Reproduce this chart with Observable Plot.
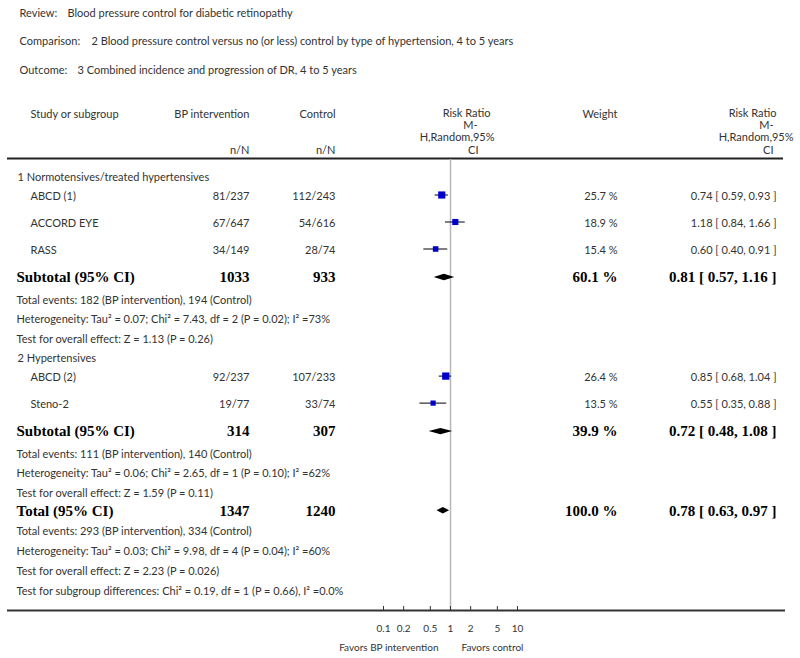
<!DOCTYPE html>
<html>
<head>
<meta charset="utf-8">
<script src="https://cdn.jsdelivr.net/npm/d3@7"></script>
<script src="https://cdn.jsdelivr.net/npm/@observablehq/plot@0.6"></script>
<style>
  html, body { margin: 0; padding: 0; background: #fff; }
</style>
</head>
<body>
<div id="chart"></div>
<script>
// ---------------- DATA ----------------
const titleLabels = ["Review:", "Comparison:", "Outcome:"];
const titleValues = [
  "Blood pressure control for diabetic retinopathy",
  "2 Blood pressure control versus no (or less) control by type of hypertension, 4 to 5 years",
  "3 Combined incidence and progression of DR, 4 to 5 years"
];

const studies    = ["ABCD (1)", "ACCORD EYE", "RASS", "ABCD (2)", "Steno-2"];
const studyGroup = [0, 0, 0, 1, 1];
const bpEvents   = [81, 67, 34, 92, 19];
const bpTotal    = [237, 647, 149, 237, 77];
const ctlEvents  = [112, 54, 28, 107, 33];
const ctlTotal   = [243, 616, 74, 233, 74];
const weights    = [25.7, 18.9, 15.4, 26.4, 13.5];
const rr         = [0.74, 1.18, 0.60, 0.85, 0.55];
const rrLo       = [0.59, 0.84, 0.40, 0.68, 0.35];
const rrHi       = [0.93, 1.66, 0.91, 1.04, 0.88];

const subgroups  = ["1 Normotensives/treated hypertensives", "2 Hypertensives"];
const subBp      = [1033, 314];
const subCtl     = [933, 307];
const subWeight  = [60.1, 39.9];
const subRR      = [0.81, 0.72];
const subLo      = [0.57, 0.48];
const subHi      = [1.16, 1.08];
const subStats = [
  ["Total events: 182 (BP intervention), 194 (Control)",
   "Heterogeneity: Tau² = 0.07; Chi² = 7.43, df = 2 (P = 0.02); I² =73%",
   "Test for overall effect: Z = 1.13 (P = 0.26)"],
  ["Total events: 111 (BP intervention), 140 (Control)",
   "Heterogeneity: Tau² = 0.06; Chi² = 2.65, df = 1 (P = 0.10); I² =62%",
   "Test for overall effect: Z = 1.59 (P = 0.11)"]
];

const totalLabel  = "Total (95% CI)";
const totalBp     = 1347;
const totalCtl    = 1240;
const totalWeight = 100.0;
const totalRR     = 0.78;
const totalLo     = 0.63;
const totalHi     = 0.97;
const totalStats = [
  "Total events: 293 (BP intervention), 334 (Control)",
  "Heterogeneity: Tau² = 0.03; Chi² = 9.98, df = 4 (P = 0.04); I² =60%",
  "Test for overall effect: Z = 2.23 (P = 0.026)",
  "Test for subgroup differences: Chi² = 0.19, df = 1 (P = 0.66), I² =0.0%"
];

const tickValues = [0.1, 0.2, 0.5, 1, 2, 5, 10];
const tickLabels = ["0.1", "0.2", "0.5", "1", "2", "5", "10"];
const favorsLeft  = "Favors BP intervention";
const favorsRight = "Favors control";

// ---------------- LAYOUT (positions / styles) ----------------
const W = 800, H = 658;
const COL = {title: 19, group: 17, bold: 16, study: 30, bp: 249, ctl: 335, weight: 617, rr: 776};
const TITLE_Y = [13, 41, 70];
const TITLE_VALUE_X = [67, 91, 77];
const HEAD_Y = 114, NN_Y = 150;
const HEAD_RR_Y = [113, 125, 137, 149.5];
const HEAD_RR_LEFT_END = [490, 477, 494, 478];
const HEAD_RR_RIGHT_END = [776, 773, 793, 773];
const HEAD_RR_LINES = ["Risk Ratio", "M-", "H,Random,95%", "CI"];
const RULE_TOP = 158, AXIS_Y = 610, TICK_LABEL_Y = 628, FAVORS_Y = 647;
const GAP = {
  "group>study": 19, "study>study": 27, "study>sub": 27, "sub>stat": 22.5,
  "stat>stat": 19.8, "stat>group": 19, "stat>total": 17, "total>stat": 21
};
const FIRST_ROW_Y = 177;
const NORMAL = "#333";

// ---------------- BUILD ROWS ----------------
const rows = [];
subgroups.forEach((g, gi) => {
  rows.push({type: "group", label: g});
  studies.forEach((s, i) => {
    if (studyGroup[i] !== gi) return;
    rows.push({type: "study", label: s,
      bp: `${bpEvents[i]}/${bpTotal[i]}`, ctl: `${ctlEvents[i]}/${ctlTotal[i]}`,
      w: weights[i], rr: rr[i], lo: rrLo[i], hi: rrHi[i]});
  });
  rows.push({type: "sub", label: "Subtotal (95% CI)", bp: String(subBp[gi]), ctl: String(subCtl[gi]),
    w: subWeight[gi], rr: subRR[gi], lo: subLo[gi], hi: subHi[gi]});
  subStats[gi].forEach(t => rows.push({type: "stat", label: t}));
});
rows.push({type: "total", label: totalLabel, bp: String(totalBp), ctl: String(totalCtl),
  w: totalWeight, rr: totalRR, lo: totalLo, hi: totalHi});
totalStats.forEach(t => rows.push({type: "stat", label: t}));

let yy = FIRST_ROW_Y;
rows.forEach((r, i) => {
  if (i > 0) yy += GAP[rows[i - 1].type + ">" + r.type] ?? 20;
  r.y = yy;
});

const studyRows = rows.filter(r => r.type === "study");
const boldRows = rows.filter(r => r.type === "sub" || r.type === "total");
const groupRows = rows.filter(r => r.type === "group");
const statRows = rows.filter(r => r.type === "stat");

const fmt2 = v => v.toFixed(2);
const rrText = r => `${fmt2(r.rr)} [ ${fmt2(r.lo)}, ${fmt2(r.hi)} ]`;
const wText = r => `${r.w.toFixed(1)} %`;

// diamond polygons
const DIAMOND_H = 3.2;
const diamonds = [];
boldRows.forEach((r, k) => {
  diamonds.push({k, x: r.lo, y1: r.y, y2: r.y});
  diamonds.push({k, x: r.rr, y1: r.y - DIAMOND_H, y2: r.y + DIAMOND_H});
  diamonds.push({k, x: r.hi, y1: r.y, y2: r.y});
});

const boldFont = {fontFamily: "Liberation Serif", fontWeight: "bold", fontSize: 15, fill: "#000"};

const col = (data, text, dx, anchor, extra = {}) =>
  Plot.text(data, {y: "y", text, frameAnchor: "left", dx, textAnchor: anchor, fill: NORMAL, ...extra});

const single = (t, y, dx, anchor, extra = {}) =>
  Plot.text([t], {y: () => y, text: d => d, frameAnchor: "left", dx, textAnchor: anchor, fill: NORMAL, ...extra});

const chart = Plot.plot({
  width: W, height: H,
  marginLeft: 0, marginRight: 0, marginTop: 0, marginBottom: 0,
  style: {fontFamily: "Lato, 'Open Sans', sans-serif", fontSize: "11px", background: "#fff", color: NORMAL},
  x: {type: "log", domain: [0.1, 10], range: [383, 517], axis: null},
  y: {type: "linear", domain: [0, H], range: [0, H], axis: null},
  r: {type: "sqrt", domain: [0, 26.4], range: [0, 4.1]},
  marks: [
    // titles
    ...titleLabels.map((t, i) => single(t, TITLE_Y[i], COL.title, "start")),
    ...titleValues.map((t, i) => single(t, TITLE_Y[i], TITLE_VALUE_X[i], "start")),
    // header
    single("Study or subgroup", HEAD_Y, COL.study, "start"),
    single("BP intervention", HEAD_Y, COL.bp, "end"),
    single("Control", HEAD_Y, COL.ctl, "end"),
    single("n/N", NN_Y, COL.bp, "end"),
    single("n/N", NN_Y, COL.ctl, "end"),
    single("Weight", HEAD_Y, COL.weight, "end"),
    ...HEAD_RR_LINES.map((t, i) => single(t, HEAD_RR_Y[i], HEAD_RR_LEFT_END[i], "end")),
    ...HEAD_RR_LINES.map((t, i) => single(t, HEAD_RR_Y[i], HEAD_RR_RIGHT_END[i], "end")),
    // rules
    Plot.ruleY([RULE_TOP], {stroke: "#222", strokeWidth: 2, insetLeft: 7, insetRight: 17}),
    Plot.ruleX([1], {y1: RULE_TOP + 1, y2: AXIS_Y, stroke: "#b8b8b8", strokeWidth: 1.5}),
    Plot.ruleY([AXIS_Y], {stroke: "#333", strokeWidth: 2, insetLeft: 7, insetRight: 15}),
    Plot.ruleX(tickValues, {y1: AXIS_Y - 4, y2: AXIS_Y, stroke: "#333", strokeWidth: 1}),
    Plot.text(tickValues, {x: d => d, y: () => TICK_LABEL_Y, text: (d, i) => tickLabels[i], fill: NORMAL, fontSize: 10}),
    Plot.text([favorsLeft], {x: () => 1, y: () => FAVORS_Y, text: d => d, dx: -12, textAnchor: "end", fill: NORMAL, fontSize: 10}),
    Plot.text([favorsRight], {x: () => 1, y: () => FAVORS_Y, text: d => d, dx: 11, textAnchor: "start", fill: NORMAL, fontSize: 10}),
    // table text
    col(groupRows, "label", COL.group, "start"),
    col(statRows, "label", COL.bold, "start"),
    col(studyRows, "label", COL.study, "start"),
    col(studyRows, "bp", COL.bp, "end"),
    col(studyRows, "ctl", COL.ctl, "end"),
    col(studyRows, wText, COL.weight, "end"),
    col(studyRows, rrText, COL.rr, "end"),
    col(boldRows, "label", COL.bold, "start", boldFont),
    col(boldRows, "bp", COL.bp, "end", boldFont),
    col(boldRows, "ctl", COL.ctl, "end", boldFont),
    col(boldRows, wText, COL.weight, "end", boldFont),
    col(boldRows, rrText, COL.rr, "end", boldFont),
    // forest marks
    Plot.ruleY(studyRows, {y: d => d.y - 1.5, x1: "lo", x2: "hi", stroke: "#000", strokeWidth: 1}),
    Plot.dot(studyRows, {x: "rr", y: d => d.y - 1.5, r: "w", symbol: "square", fill: "#0000cc", stroke: "none"}),
    Plot.areaY(diamonds, {x: "x", y1: "y1", y2: "y2", z: "k", fill: "#000", curve: "linear"})
  ]
});

document.getElementById("chart").appendChild(chart);
</script>
</body>
</html>
